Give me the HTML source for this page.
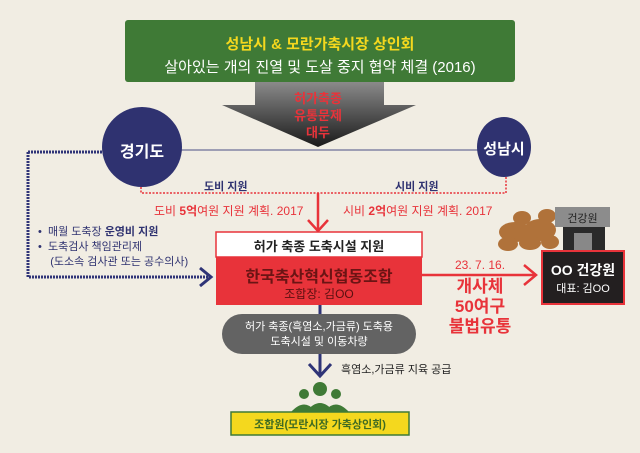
<!DOCTYPE html>
<html><head><meta charset="utf-8"><style>
body{margin:0;width:640px;height:453px;overflow:hidden;background:#f1ede3;font-family:"Liberation Sans","Noto Sans CJK KR",sans-serif;}
.t{position:absolute;white-space:nowrap;}
</style></head><body>
<svg width="640" height="453" style="position:absolute;left:0;top:0">
<defs><linearGradient id="g" x1="0" y1="0" x2="0" y2="1"><stop offset="0" stop-color="#8a8a8a"/><stop offset="1" stop-color="#1a1a1a"/></linearGradient></defs>
<rect x="125" y="20" width="390" height="62" rx="3" fill="#3f7a36"/>
<polygon points="255,82 384,82 384,105 416,105 318,147 222,105 255,105" fill="url(#g)"/>
<line x1="170" y1="150" x2="490" y2="150" stroke="#4b4f86" stroke-width="1"/>
<path d="M28,152 H104 M28,152 V277 H210" fill="none" stroke="#2f3477" stroke-width="3" stroke-dasharray="2,1"/>
<path d="M200,268 L211,277 L200,286" fill="none" stroke="#2f3477" stroke-width="3"/>
<path d="M141,180 V193 H506 V177" fill="none" stroke="#e8333a" stroke-width="1.5" stroke-dasharray="2,1.5"/>
<line x1="318" y1="193" x2="318" y2="230" stroke="#e8333a" stroke-width="2.5"/>
<path d="M308,220 L318,231 L328,220" fill="none" stroke="#e8333a" stroke-width="2.5"/>
<ellipse cx="142" cy="147" rx="40" ry="40" fill="#2f3270"/>
<ellipse cx="504" cy="147" rx="27" ry="30" fill="#2f3270"/>
<rect x="216" y="232" width="206" height="25" fill="#fff" stroke="#e8333a" stroke-width="1.5"/>
<rect x="216" y="257" width="206" height="48" fill="#e8333a"/>
<line x1="422" y1="275" x2="534" y2="275" stroke="#e8333a" stroke-width="2.5"/>
<path d="M524,265 L536,275 L524,285" fill="none" stroke="#e8333a" stroke-width="2.5"/>
<g fill="#b0723a"><ellipse cx="515" cy="232" rx="16" ry="10"/><ellipse cx="540" cy="230" rx="16" ry="11"/><ellipse cx="508" cy="244" rx="10" ry="7"/><ellipse cx="530" cy="243" rx="11" ry="7"/><ellipse cx="550" cy="242" rx="9" ry="7"/><ellipse cx="522" cy="218" rx="9" ry="7"/><ellipse cx="547" cy="216" rx="9" ry="7"/></g>
<rect x="563" y="225" width="42" height="28" fill="#2a2a2a"/>
<rect x="574" y="233" width="18" height="20" fill="#888"/>
<rect x="555" y="207" width="55" height="20" fill="#8c8c8c"/>
<rect x="542" y="251" width="82" height="53" fill="#231f20" stroke="#e8333a" stroke-width="2"/>
<line x1="320" y1="305" x2="320" y2="316" stroke="#2f3477" stroke-width="3"/>
<rect x="222" y="314" width="194" height="40" rx="20" fill="#636363"/>
<line x1="320" y1="354" x2="320" y2="375" stroke="#2f3477" stroke-width="3"/>
<path d="M309,364 L320,376 L331,364" fill="none" stroke="#2f3477" stroke-width="3"/>
<g fill="#3f7a36"><circle cx="320" cy="389" r="7"/><circle cx="304" cy="394" r="5"/><circle cx="336" cy="394" r="5"/><path d="M306,412 Q320,394 334,412Z"/><path d="M291,412 Q304,398 314,410 L314,412Z"/><path d="M326,412 L326,410 Q336,398 349,412Z"/></g>
<rect x="231" y="412" width="178" height="23" fill="#f4d81e" stroke="#3f7a36" stroke-width="1.5"/>
</svg>
<div class="t" style="left:125px;width:390px;text-align:center;top:33px;font-size:15px;font-weight:bold;color:#f4d81e">성남시 &amp; 모란가축시장 상인회</div>
<div class="t" style="left:125px;width:390px;text-align:center;top:56px;font-size:15px;color:#fff">살아있는 개의 진열 및 도살 중지 협약 체결 (2016)</div>
<div class="t" style="left:270px;width:96px;text-align:center;top:90px;font-size:13px;line-height:17px;font-weight:bold;color:#e8333a">허가축종<br>유통문제<br>대두</div>
<div class="t" style="left:102px;width:80px;text-align:center;top:138px;font-size:16px;font-weight:bold;color:#fff">경기도</div>
<div class="t" style="left:477px;width:54px;text-align:center;top:138px;font-size:15px;font-weight:bold;color:#fff">성남시</div>
<div class="t" style="left:204px;top:178px;font-size:11px;font-weight:bold;color:#2f3270">도비 지원</div>
<div class="t" style="left:395px;top:178px;font-size:11px;font-weight:bold;color:#2f3270">시비 지원</div>
<div class="t" style="left:154px;top:202px;font-size:12px;color:#e8333a">도비 <b>5억</b>여원 지원 계획. 2017</div>
<div class="t" style="left:343px;top:202px;font-size:12px;color:#e8333a">시비 <b>2억</b>여원 지원 계획. 2017</div>
<div class="t" style="left:38px;top:225px;font-size:11px;line-height:15px;color:#2f3270">•&nbsp; 매월 도축장 <b>운영비 지원</b><br>•&nbsp; 도축검사 책임관리제<br>&nbsp;&nbsp;&nbsp; (도소속 검사관 또는 공수의사)</div>
<div class="t" style="left:216px;width:206px;text-align:center;top:236px;font-size:13px;font-weight:bold;color:#222">허가 축종 도축시설 지원</div>
<div class="t" style="left:216px;width:206px;text-align:center;top:263px;font-size:16px;font-weight:bold;color:#6b1414">한국축산혁신협동조합</div>
<div class="t" style="left:216px;width:206px;text-align:center;top:285px;font-size:12px;color:#5a1010">조합장: 김OO</div>
<div class="t" style="left:455px;top:258px;font-size:12px;color:#e8333a">23. 7. 16.</div>
<div class="t" style="left:440px;width:80px;text-align:center;top:277px;font-size:17px;line-height:20px;font-weight:bold;color:#e8333a">개사체<br>50여구<br>불법유통</div>
<div class="t" style="left:555px;width:55px;text-align:center;top:210px;font-size:11px;color:#222">건강원</div>
<div class="t" style="left:542px;width:82px;text-align:center;top:260px;font-size:14px;font-weight:bold;color:#fff">OO 건강원</div>
<div class="t" style="left:542px;width:82px;text-align:center;top:280px;font-size:11px;color:#fff">대표: 김OO</div>
<div class="t" style="left:222px;width:194px;text-align:center;top:320px;font-size:11px;line-height:15px;color:#fff">허가 축종(흑염소,가금류) 도축용<br>도축시설 및 이동차량</div>
<div class="t" style="left:341px;top:361px;font-size:11px;color:#222">흑염소,가금류 지육 공급</div>
<div class="t" style="left:231px;width:178px;text-align:center;top:416px;font-size:11px;font-weight:bold;color:#3f6b22">조합원(모란시장 가축상인회)</div>
</body></html>
